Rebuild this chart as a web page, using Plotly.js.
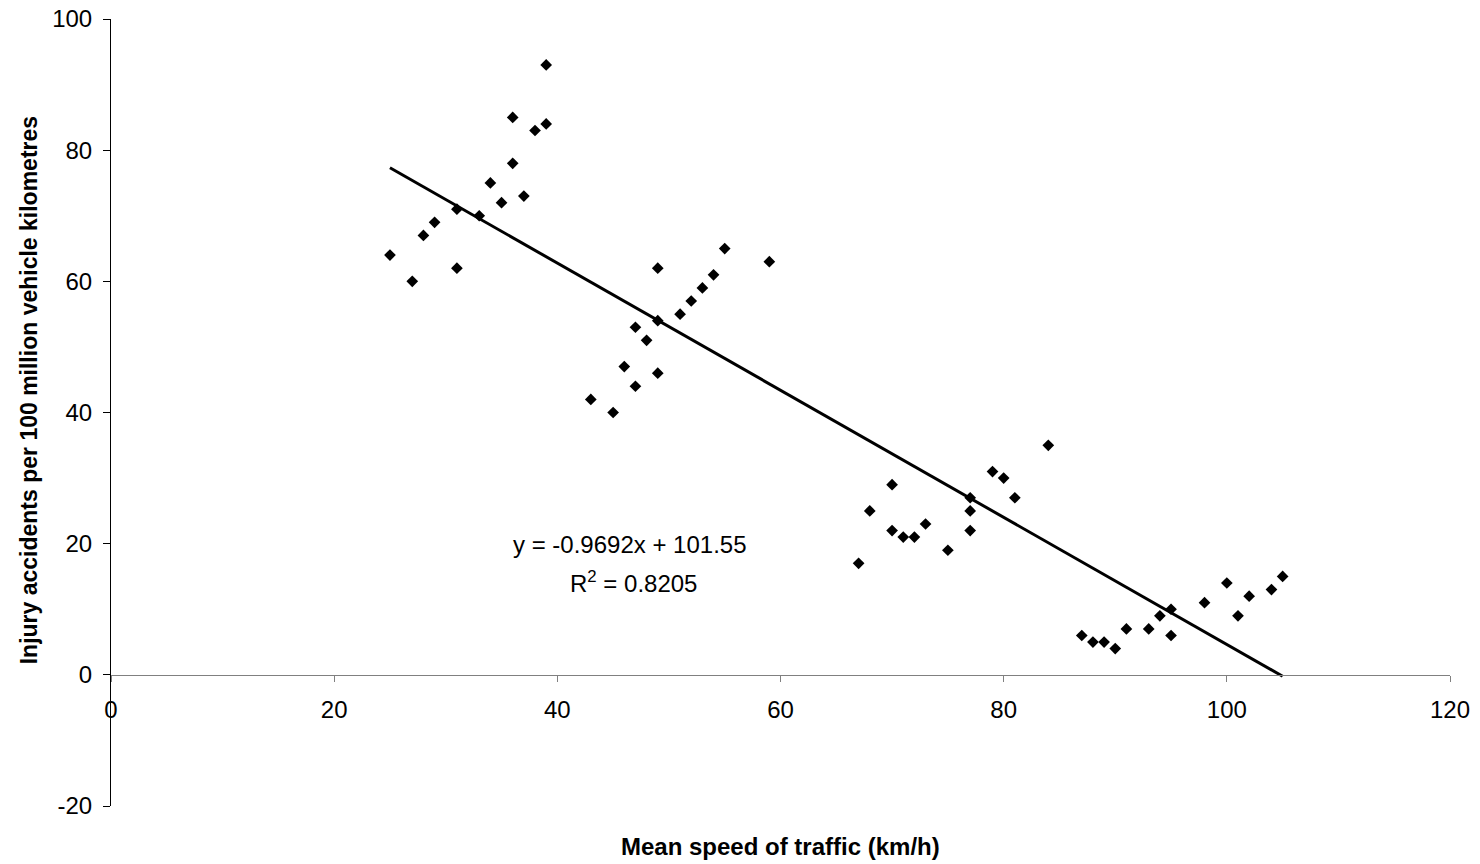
<!DOCTYPE html>
<html>
<head>
<meta charset="utf-8">
<script src="https://cdn.plot.ly/plotly-3.0.1.min.js"></script>
<style>html,body{margin:0;padding:0;background:#fff;}#chart{width:1480px;height:864px;}</style>
</head>
<body>
<div id="chart"></div>
<script>
// Mean speed of traffic (km/h)
const speed = [25,27,28,29,31,31,33,34,35,36,36,37,38,39,39,
  43,45,46,47,47,48,49,49,49,51,52,53,54,55,59,
  67,68,70,70,71,72,73,75,77,77,77,79,80,81,84,
  87,88,89,90,91,93,94,95,95,98,100,101,102,104,105];
// Injury accidents per 100 million vehicle kilometres
const accidents = [64,60,67,69,71,62,70,75,72,85,78,73,83,84,93,
  42,40,47,53,44,51,62,54,46,55,57,59,61,65,63,
  17,25,29,22,21,21,23,19,27,25,22,31,30,27,35,
  6,5,5,4,7,7,9,10,6,11,14,9,12,13,15];
// Linear trendline end points (y = -0.9692x + 101.55)
const trendX = [25, 105];
const trendY = [77.32, -0.216];
const eqText = "y = -0.9692x + 101.55";
const r2Text = "R<sup>2</sup> = 0.8205";
const xTicks = [0,20,40,60,80,100,120];
const yTicks = [-20,0,20,40,60,80,100];

const FONT = "Liberation Sans, Arial, sans-serif";

const data = [
  {x: speed, y: accidents, type: 'scatter', mode: 'markers',
   marker: {symbol: 'diamond', size: 9, color: '#000'}, hoverinfo: 'x+y'},
  {x: trendX, y: trendY, type: 'scatter', mode: 'lines',
   line: {color: '#000', width: 3}, hoverinfo: 'skip'}
];

const layout = {
  width: 1480, height: 864,
  margin: {l: 111, r: 30, t: 19, b: 58},
  paper_bgcolor: '#fff', plot_bgcolor: '#fff',
  showlegend: false,
  font: {family: FONT, size: 24, color: '#000'},
  xaxis: {
    range: [0, 120], tickvals: xTicks, ticktext: xTicks.map(String),
    anchor: 'free', position: 1/6,
    showline: true, linecolor: '#808080', linewidth: 1,
    ticks: 'outside', ticklen: 6, tickcolor: '#808080', tickwidth: 1,
    showgrid: false, zeroline: false,
    tickfont: {family: FONT, size: 24, color: '#000'},
    ticklabelstandoff: 7
  },
  yaxis: {
    range: [-20, 100], tickvals: yTicks, ticktext: yTicks.map(String),
    showline: true, linecolor: '#000', linewidth: 1,
    ticks: 'outside', ticklen: 7, tickcolor: '#000', tickwidth: 1,
    showgrid: false, zeroline: false,
    tickfont: {family: FONT, size: 24, color: '#000'},
    ticklabelstandoff: 6
  },
  annotations: [
    {text: eqText, xref: 'x', yref: 'y', x: 46.5, y: 19.8, showarrow: false,
     xanchor: 'center', yanchor: 'middle', font: {family: FONT, size: 24, color: '#000'}},
    {text: r2Text, xref: 'x', yref: 'y', x: 46.8, y: 14.2, showarrow: false,
     xanchor: 'center', yanchor: 'middle', font: {family: FONT, size: 24, color: '#000'}},
    {text: '<b>Mean speed of traffic (km/h)</b>', xref: 'paper', yref: 'paper',
     x: 0.5, y: -0.052, showarrow: false, xanchor: 'center', yanchor: 'middle',
     font: {family: FONT, size: 24, color: '#000'}},
    {text: '<b>Injury accidents per 100 million vehicle kilometres</b>', xref: 'paper', yref: 'paper',
     x: -0.061, y: 0.5286, showarrow: false, textangle: -90, xanchor: 'center', yanchor: 'middle',
     font: {family: FONT, size: 23, color: '#000'}}
  ]
};

Plotly.newPlot('chart', data, layout, {displayModeBar: false, staticPlot: true});
</script>
</body>
</html>
